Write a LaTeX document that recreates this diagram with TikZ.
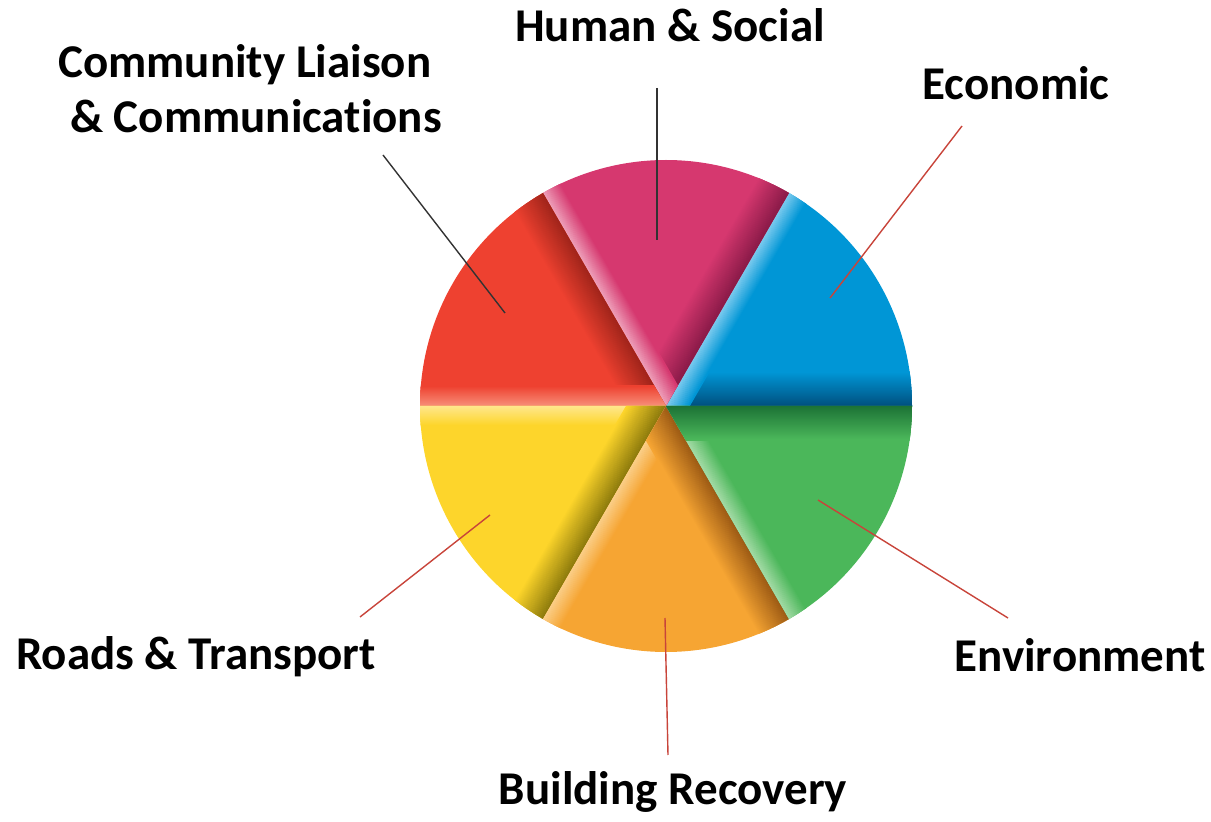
\documentclass[tikz,border=0pt]{standalone}
\usepackage{fontspec}
\setmainfont{Carlito}[Ligatures=NoCommon]
\definecolor{bluebase}{HTML}{0096D6}\definecolor{bluedark}{HTML}{00507F}\definecolor{bluelight}{HTML}{7FCDF0}
\definecolor{magbase}{HTML}{D6386F}\definecolor{magdark}{HTML}{8A1A48}\definecolor{maglight}{HTML}{EFA3BC}
\definecolor{redbase}{HTML}{EE4130}\definecolor{reddark}{HTML}{A0241A}\definecolor{redlight}{HTML}{F7907A}
\definecolor{yelbase}{HTML}{FDD52B}\definecolor{yeldark}{HTML}{8C7A0C}\definecolor{yellight}{HTML}{FFE890}
\definecolor{orabase}{HTML}{F6A533}\definecolor{oradark}{HTML}{9C5A14}\definecolor{oralight}{HTML}{FBD08A}
\definecolor{grebase}{HTML}{4BB75A}\definecolor{gredark}{HTML}{1B7135}\definecolor{grelight}{HTML}{A6DCA8}
\definecolor{leadred}{HTML}{C8443A}
\definecolor{leadgrey}{HTML}{333333}
% #1 start angle, #2 end angle, #3 base, #4 start-edge colour, #5 start width, #6 end-edge colour, #7 end width
\newcommand{\piesector}[7]{%
\begin{scope}
\clip (C) -- ++(#1:246) arc[start angle=#1, end angle=#2, radius=246] -- cycle;
\fill[#3] (C) circle[radius=248];
\foreach \ii in {0,...,#5} {
  \pgfmathtruncatemacro\pp{100*\ii/#5}
  \begin{scope}[shift={(C)}, rotate=#1]
  \draw[line width=1.4pt, #3!\pp!#4] (0,\ii) -- (250,\ii);
  \end{scope}
}
\foreach \ii in {0,...,#7} {
  \pgfmathtruncatemacro\pp{100*\ii/#7}
  \begin{scope}[shift={(C)}, rotate=#2]
  \draw[line width=1.4pt, #3!\pp!#6] (0,-\ii) -- (250,-\ii);
  \end{scope}
}
\end{scope}}
\begin{document}
\begin{tikzpicture}[x=1pt,y=1pt,
  lbl/.style={font=\fontsize{47}{55}\selectfont\bfseries, inner sep=0pt},
  leader/.style={line width=1.4pt}]
\useasboundingbox (0,0) rectangle (1211,822);
\coordinate (C) at (666,416);
\piesector{0}{60}{bluebase}{bluedark}{34}{bluelight}{20}
\piesector{60}{120}{magbase}{magdark}{34}{maglight}{20}
\piesector{120}{180}{redbase}{reddark}{34}{redlight}{20}
\piesector{180}{240}{yelbase}{yellight}{20}{yeldark}{34}
\piesector{240}{300}{orabase}{oralight}{20}{oradark}{34}
\piesector{300}{360}{grebase}{grelight}{20}{gredark}{34}
% labels
\node[lbl, anchor=base] (hs) at (670,780) {Human \& Social};
\node[lbl, anchor=base] (ec) at (1016,722) {Economic};
\node[lbl, anchor=base west, align=left] (cl) at (58,689) {Community Liaison\\\hspace*{12pt}\& Communications};
\node[lbl, anchor=base] (rt) at (196,152) {Roads \& Transport};
\node[lbl, anchor=base] (en) at (1080,150) {Environment};
\node[lbl, anchor=base] (br) at (673,17) {Building Recovery};
% leader ends
\coordinate (hsA) at (657,734); \coordinate (hsB) at (657,582);
\coordinate (clA) at (383,667); \coordinate (clB) at (505,509);
\coordinate (ecA) at (962,696); \coordinate (ecB) at (830,524);
\coordinate (enA) at (1008,204); \coordinate (enB) at (818,322);
\coordinate (brA) at (668,67); \coordinate (brB) at (665,204);
\coordinate (rtA) at (360,205); \coordinate (rtB) at (490,307);
\draw[leader, leadgrey] (hsA) -- (hsB);
\draw[leader, leadgrey] (clA) -- (clB);
\draw[leader, leadred] (ecA) -- (ecB);
\draw[leader, leadred] (enA) -- (enB);
\draw[leader, leadred] (brA) -- (brB);
\draw[leader, leadred] (rtA) -- (rtB);
\end{tikzpicture}
\end{document}
